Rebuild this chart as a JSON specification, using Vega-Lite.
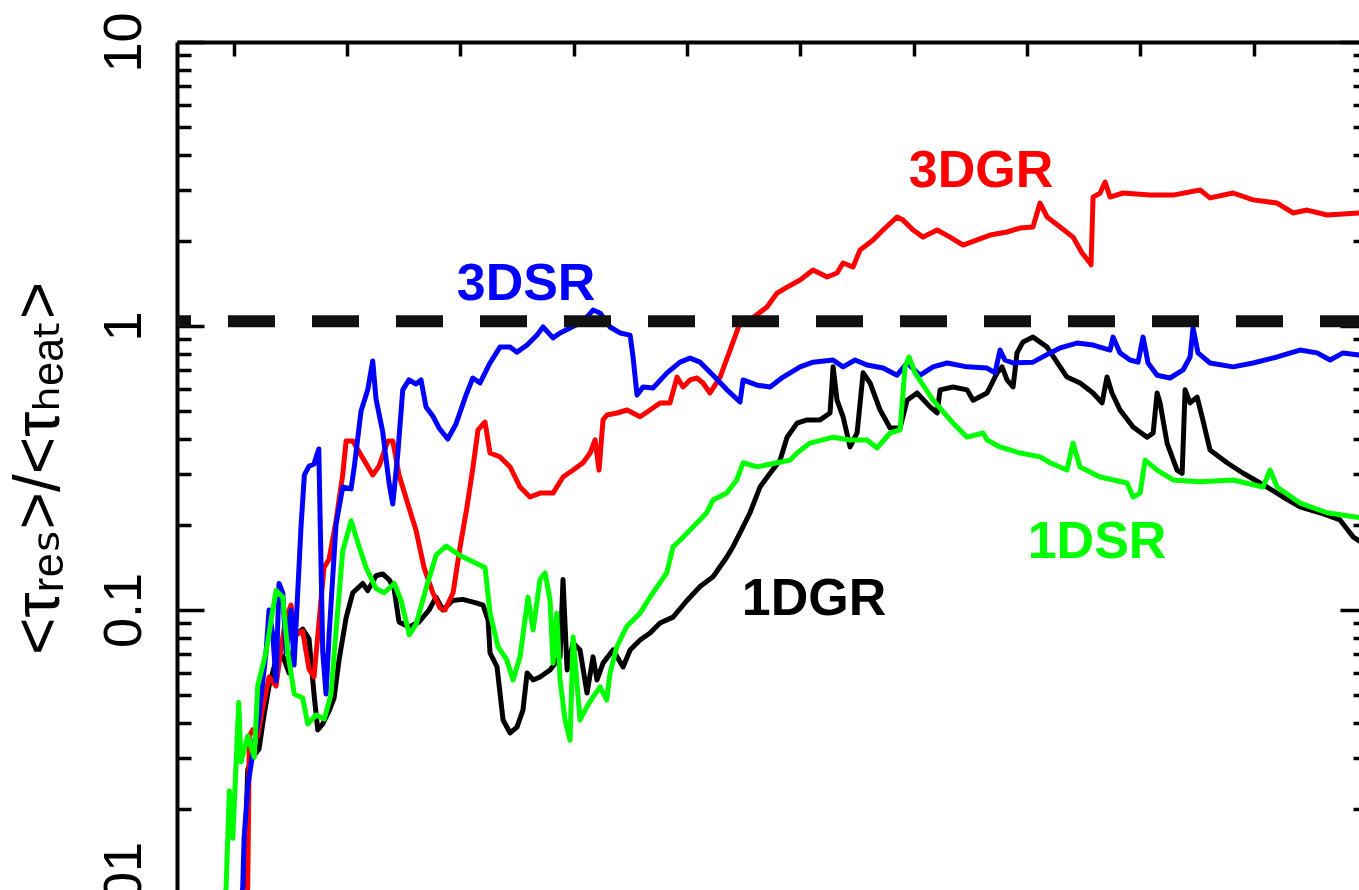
{
  "$schema": "https://vega.github.io/schema/vega-lite/v6.json",
  "width": 1190,
  "height": 852,
  "autosize": {"type": "none"},
  "padding": {"left": 177, "top": 42, "right": 0, "bottom": 0},
  "background": "white",
  "config": {
    "view": {"stroke": null},
    "axis": {"grid": false, "domainColor": "#000000", "tickColor": "#000000", "domainWidth": 4, "tickWidth": 3.5}
  },
  "datasets": {
    "curves": [
      {"s":"1DGR","x":1.056,"y":0.0091},{"s":"1DGR","x":1.092,"y":0.0105},{"s":"1DGR","x":1.124,"y":0.0274},{"s":"1DGR","x":1.168,"y":0.0303},{"s":"1DGR","x":1.224,"y":0.0324},{"s":"1DGR","x":1.268,"y":0.0427},{"s":"1DGR","x":1.312,"y":0.054},{"s":"1DGR","x":1.374,"y":0.0667},{"s":"1DGR","x":1.433,"y":0.0689},{"s":"1DGR","x":1.489,"y":0.06},{"s":"1DGR","x":1.55,"y":0.0817},{"s":"1DGR","x":1.609,"y":0.0857},{"s":"1DGR","x":1.665,"y":0.0791},{"s":"1DGR","x":1.709,"y":0.0506},{"s":"1DGR","x":1.742,"y":0.0378},{"s":"1DGR","x":1.786,"y":0.0397},{"s":"1DGR","x":1.842,"y":0.0441},{"s":"1DGR","x":1.886,"y":0.049},{"s":"1DGR","x":1.93,"y":0.0667},{"s":"1DGR","x":1.992,"y":0.0938},{"s":"1DGR","x":2.051,"y":0.115},{"s":"1DGR","x":2.139,"y":0.124},{"s":"1DGR","x":2.183,"y":0.117},{"s":"1DGR","x":2.256,"y":0.132},{"s":"1DGR","x":2.315,"y":0.134},{"s":"1DGR","x":2.371,"y":0.128},{"s":"1DGR","x":2.415,"y":0.119},{"s":"1DGR","x":2.459,"y":0.0908},{"s":"1DGR","x":2.547,"y":0.0871},{"s":"1DGR","x":2.636,"y":0.0908},{"s":"1DGR","x":2.724,"y":0.1},{"s":"1DGR","x":2.786,"y":0.111},{"s":"1DGR","x":2.845,"y":0.1},{"s":"1DGR","x":2.933,"y":0.108},{"s":"1DGR","x":3.021,"y":0.109},{"s":"1DGR","x":3.139,"y":0.106},{"s":"1DGR","x":3.2,"y":0.104},{"s":"1DGR","x":3.245,"y":0.0923},{"s":"1DGR","x":3.262,"y":0.0706},{"s":"1DGR","x":3.324,"y":0.063},{"s":"1DGR","x":3.377,"y":0.041},{"s":"1DGR","x":3.439,"y":0.0369},{"s":"1DGR","x":3.5,"y":0.0387},{"s":"1DGR","x":3.553,"y":0.0445},{"s":"1DGR","x":3.589,"y":0.06},{"s":"1DGR","x":3.642,"y":0.0567},{"s":"1DGR","x":3.703,"y":0.0581},{"s":"1DGR","x":3.792,"y":0.0615},{"s":"1DGR","x":3.88,"y":0.0684},{"s":"1DGR","x":3.906,"y":0.128},{"s":"1DGR","x":3.942,"y":0.0615},{"s":"1DGR","x":3.995,"y":0.0766},{"s":"1DGR","x":4.056,"y":0.0723},{"s":"1DGR","x":4.118,"y":0.051},{"s":"1DGR","x":4.171,"y":0.0684},{"s":"1DGR","x":4.206,"y":0.0567},{"s":"1DGR","x":4.259,"y":0.065},{"s":"1DGR","x":4.347,"y":0.0723},{"s":"1DGR","x":4.436,"y":0.063},{"s":"1DGR","x":4.498,"y":0.0723},{"s":"1DGR","x":4.586,"y":0.0784},{"s":"1DGR","x":4.674,"y":0.083},{"s":"1DGR","x":4.762,"y":0.09},{"s":"1DGR","x":4.877,"y":0.0944},{"s":"1DGR","x":5.0,"y":0.108},{"s":"1DGR","x":5.115,"y":0.121},{"s":"1DGR","x":5.23,"y":0.131},{"s":"1DGR","x":5.353,"y":0.154},{"s":"1DGR","x":5.406,"y":0.167},{"s":"1DGR","x":5.468,"y":0.187},{"s":"1DGR","x":5.556,"y":0.22},{"s":"1DGR","x":5.644,"y":0.271},{"s":"1DGR","x":5.733,"y":0.303},{"s":"1DGR","x":5.821,"y":0.337},{"s":"1DGR","x":5.883,"y":0.406},{"s":"1DGR","x":5.971,"y":0.455},{"s":"1DGR","x":6.059,"y":0.467},{"s":"1DGR","x":6.174,"y":0.467},{"s":"1DGR","x":6.262,"y":0.494},{"s":"1DGR","x":6.28,"y":0.63},{"s":"1DGR","x":6.289,"y":0.718},{"s":"1DGR","x":6.324,"y":0.548},{"s":"1DGR","x":6.377,"y":0.479},{"s":"1DGR","x":6.439,"y":0.375},{"s":"1DGR","x":6.501,"y":0.42},{"s":"1DGR","x":6.554,"y":0.684},{"s":"1DGR","x":6.615,"y":0.63},{"s":"1DGR","x":6.704,"y":0.506},{"s":"1DGR","x":6.792,"y":0.4375},{"s":"1DGR","x":6.88,"y":0.4375},{"s":"1DGR","x":6.942,"y":0.548},{"s":"1DGR","x":7.03,"y":0.581},{"s":"1DGR","x":7.145,"y":0.519},{"s":"1DGR","x":7.207,"y":0.494},{"s":"1DGR","x":7.233,"y":0.596},{"s":"1DGR","x":7.348,"y":0.61},{"s":"1DGR","x":7.471,"y":0.596},{"s":"1DGR","x":7.524,"y":0.548},{"s":"1DGR","x":7.648,"y":0.581},{"s":"1DGR","x":7.736,"y":0.684},{"s":"1DGR","x":7.78,"y":0.718},{"s":"1DGR","x":7.824,"y":0.646},{"s":"1DGR","x":7.877,"y":0.61},{"s":"1DGR","x":7.912,"y":0.804},{"s":"1DGR","x":7.965,"y":0.879},{"s":"1DGR","x":8.053,"y":0.914},{"s":"1DGR","x":8.177,"y":0.843},{"s":"1DGR","x":8.292,"y":0.718},{"s":"1DGR","x":8.353,"y":0.661},{"s":"1DGR","x":8.468,"y":0.63},{"s":"1DGR","x":8.583,"y":0.581},{"s":"1DGR","x":8.662,"y":0.536},{"s":"1DGR","x":8.706,"y":0.661},{"s":"1DGR","x":8.75,"y":0.581},{"s":"1DGR","x":8.821,"y":0.506},{"s":"1DGR","x":8.936,"y":0.441},{"s":"1DGR","x":9.06,"y":0.406},{"s":"1DGR","x":9.113,"y":0.42},{"s":"1DGR","x":9.148,"y":0.581},{"s":"1DGR","x":9.174,"y":0.536},{"s":"1DGR","x":9.236,"y":0.387},{"s":"1DGR","x":9.324,"y":0.311},{"s":"1DGR","x":9.369,"y":0.303},{"s":"1DGR","x":9.395,"y":0.596},{"s":"1DGR","x":9.439,"y":0.536},{"s":"1DGR","x":9.501,"y":0.562},{"s":"1DGR","x":9.545,"y":0.479},{"s":"1DGR","x":9.615,"y":0.366},{"s":"1DGR","x":9.765,"y":0.33},{"s":"1DGR","x":9.907,"y":0.303},{"s":"1DGR","x":10.118,"y":0.271},{"s":"1DGR","x":10.259,"y":0.25},{"s":"1DGR","x":10.409,"y":0.231},{"s":"1DGR","x":10.586,"y":0.22},{"s":"1DGR","x":10.762,"y":0.2075},{"s":"1DGR","x":10.877,"y":0.181},{"s":"1DGR","x":10.992,"y":0.169},
      {"s":"3DGR","x":1.101,"y":0.0091},{"s":"3DGR","x":1.124,"y":0.0105},{"s":"3DGR","x":1.138,"y":0.036},{"s":"3DGR","x":1.168,"y":0.0378},{"s":"3DGR","x":1.212,"y":0.036},{"s":"3DGR","x":1.257,"y":0.0455},{"s":"3DGR","x":1.312,"y":0.0581},{"s":"3DGR","x":1.374,"y":0.054},{"s":"3DGR","x":1.418,"y":0.0735},{"s":"3DGR","x":1.462,"y":0.0938},{"s":"3DGR","x":1.506,"y":0.104},{"s":"3DGR","x":1.55,"y":0.0817},{"s":"3DGR","x":1.609,"y":0.0843},{"s":"3DGR","x":1.665,"y":0.0619},{"s":"3DGR","x":1.709,"y":0.0581},{"s":"3DGR","x":1.753,"y":0.0908},{"s":"3DGR","x":1.797,"y":0.141},{"s":"3DGR","x":1.842,"y":0.151},{"s":"3DGR","x":1.903,"y":0.206},{"s":"3DGR","x":1.962,"y":0.299},{"s":"3DGR","x":1.992,"y":0.394},{"s":"3DGR","x":2.051,"y":0.394},{"s":"3DGR","x":2.139,"y":0.343},{"s":"3DGR","x":2.227,"y":0.299},{"s":"3DGR","x":2.283,"y":0.321},{"s":"3DGR","x":2.36,"y":0.394},{"s":"3DGR","x":2.404,"y":0.394},{"s":"3DGR","x":2.459,"y":0.299},{"s":"3DGR","x":2.547,"y":0.229},{"s":"3DGR","x":2.609,"y":0.191},{"s":"3DGR","x":2.68,"y":0.141},{"s":"3DGR","x":2.757,"y":0.115},{"s":"3DGR","x":2.821,"y":0.1016},{"s":"3DGR","x":2.865,"y":0.1},{"s":"3DGR","x":2.936,"y":0.115},{"s":"3DGR","x":2.998,"y":0.167},{"s":"3DGR","x":3.059,"y":0.231},{"s":"3DGR","x":3.112,"y":0.319},{"s":"3DGR","x":3.156,"y":0.431},{"s":"3DGR","x":3.218,"y":0.459},{"s":"3DGR","x":3.262,"y":0.357},{"s":"3DGR","x":3.35,"y":0.346},{"s":"3DGR","x":3.439,"y":0.319},{"s":"3DGR","x":3.527,"y":0.271},{"s":"3DGR","x":3.615,"y":0.25},{"s":"3DGR","x":3.703,"y":0.258},{"s":"3DGR","x":3.818,"y":0.258},{"s":"3DGR","x":3.906,"y":0.294},{"s":"3DGR","x":3.995,"y":0.311},{"s":"3DGR","x":4.083,"y":0.33},{"s":"3DGR","x":4.145,"y":0.357},{"s":"3DGR","x":4.189,"y":0.397},{"s":"3DGR","x":4.224,"y":0.311},{"s":"3DGR","x":4.259,"y":0.467},{"s":"3DGR","x":4.294,"y":0.486},{"s":"3DGR","x":4.383,"y":0.494},{"s":"3DGR","x":4.471,"y":0.506},{"s":"3DGR","x":4.586,"y":0.479},{"s":"3DGR","x":4.674,"y":0.506},{"s":"3DGR","x":4.762,"y":0.536},{"s":"3DGR","x":4.85,"y":0.536},{"s":"3DGR","x":4.912,"y":0.661},{"s":"3DGR","x":4.965,"y":0.61},{"s":"3DGR","x":5.027,"y":0.646},{"s":"3DGR","x":5.088,"y":0.656},{"s":"3DGR","x":5.141,"y":0.63},{"s":"3DGR","x":5.203,"y":0.581},{"s":"3DGR","x":5.292,"y":0.661},{"s":"3DGR","x":5.38,"y":0.823},{"s":"3DGR","x":5.468,"y":1.025},{"s":"3DGR","x":5.556,"y":1.05},{"s":"3DGR","x":5.706,"y":1.167},{"s":"3DGR","x":5.795,"y":1.306},{"s":"3DGR","x":5.883,"y":1.371},{"s":"3DGR","x":5.998,"y":1.452},{"s":"3DGR","x":6.112,"y":1.574},{"s":"3DGR","x":6.236,"y":1.488},{"s":"3DGR","x":6.324,"y":1.537},{"s":"3DGR","x":6.377,"y":1.667},{"s":"3DGR","x":6.465,"y":1.614},{"s":"3DGR","x":6.527,"y":1.853},{"s":"3DGR","x":6.642,"y":2.009},{"s":"3DGR","x":6.73,"y":2.178},{"s":"3DGR","x":6.853,"y":2.42},{"s":"3DGR","x":6.906,"y":2.36},{"s":"3DGR","x":6.995,"y":2.178},{"s":"3DGR","x":7.083,"y":2.056},{"s":"3DGR","x":7.207,"y":2.178},{"s":"3DGR","x":7.321,"y":2.056},{"s":"3DGR","x":7.436,"y":1.928},{"s":"3DGR","x":7.56,"y":2.009},{"s":"3DGR","x":7.674,"y":2.09},{"s":"3DGR","x":7.824,"y":2.143},{"s":"3DGR","x":7.939,"y":2.213},{"s":"3DGR","x":8.053,"y":2.233},{"s":"3DGR","x":8.115,"y":2.71},{"s":"3DGR","x":8.177,"y":2.42},{"s":"3DGR","x":8.292,"y":2.233},{"s":"3DGR","x":8.406,"y":2.056},{"s":"3DGR","x":8.486,"y":1.807},{"s":"3DGR","x":8.556,"y":1.667},{"s":"3DGR","x":8.565,"y":1.64},{"s":"3DGR","x":8.583,"y":2.845},{"s":"3DGR","x":8.645,"y":2.94},{"s":"3DGR","x":8.689,"y":3.214},{"s":"3DGR","x":8.733,"y":2.845},{"s":"3DGR","x":8.848,"y":2.94},{"s":"3DGR","x":9.086,"y":2.89},{"s":"3DGR","x":9.289,"y":2.89},{"s":"3DGR","x":9.527,"y":3.013},{"s":"3DGR","x":9.615,"y":2.825},{"s":"3DGR","x":9.818,"y":2.94},{"s":"3DGR","x":9.995,"y":2.78},{"s":"3DGR","x":10.207,"y":2.71},{"s":"3DGR","x":10.348,"y":2.5},{"s":"3DGR","x":10.471,"y":2.56},{"s":"3DGR","x":10.648,"y":2.46},{"s":"3DGR","x":10.93,"y":2.5},{"s":"3DGR","x":10.992,"y":2.5},
      {"s":"3DSR","x":1.056,"y":0.0091},{"s":"3DSR","x":1.08,"y":0.0105},{"s":"3DSR","x":1.092,"y":0.0157},{"s":"3DSR","x":1.124,"y":0.0238},{"s":"3DSR","x":1.168,"y":0.0313},{"s":"3DSR","x":1.224,"y":0.0427},{"s":"3DSR","x":1.286,"y":0.0711},{"s":"3DSR","x":1.312,"y":0.1},{"s":"3DSR","x":1.345,"y":0.0817},{"s":"3DSR","x":1.374,"y":0.0562},{"s":"3DSR","x":1.4,"y":0.124},{"s":"3DSR","x":1.433,"y":0.115},{"s":"3DSR","x":1.462,"y":0.0711},{"s":"3DSR","x":1.506,"y":0.1},{"s":"3DSR","x":1.533,"y":0.064},{"s":"3DSR","x":1.565,"y":0.115},{"s":"3DSR","x":1.595,"y":0.199},{"s":"3DSR","x":1.624,"y":0.299},{"s":"3DSR","x":1.665,"y":0.321},{"s":"3DSR","x":1.709,"y":0.327},{"s":"3DSR","x":1.751,"y":0.369},{"s":"3DSR","x":1.786,"y":0.0711},{"s":"3DSR","x":1.815,"y":0.0506},{"s":"3DSR","x":1.842,"y":0.0817},{"s":"3DSR","x":1.903,"y":0.199},{"s":"3DSR","x":1.962,"y":0.271},{"s":"3DSR","x":2.036,"y":0.267},{"s":"3DSR","x":2.065,"y":0.321},{"s":"3DSR","x":2.124,"y":0.502},{"s":"3DSR","x":2.183,"y":0.596},{"s":"3DSR","x":2.227,"y":0.753},{"s":"3DSR","x":2.256,"y":0.553},{"s":"3DSR","x":2.315,"y":0.424},{"s":"3DSR","x":2.371,"y":0.28},{"s":"3DSR","x":2.404,"y":0.236},{"s":"3DSR","x":2.448,"y":0.354},{"s":"3DSR","x":2.492,"y":0.596},{"s":"3DSR","x":2.547,"y":0.646},{"s":"3DSR","x":2.609,"y":0.625},{"s":"3DSR","x":2.653,"y":0.646},{"s":"3DSR","x":2.697,"y":0.519},{"s":"3DSR","x":2.757,"y":0.482},{"s":"3DSR","x":2.812,"y":0.4375},{"s":"3DSR","x":2.889,"y":0.4},{"s":"3DSR","x":2.962,"y":0.452},{"s":"3DSR","x":3.05,"y":0.571},{"s":"3DSR","x":3.11,"y":0.656},{"s":"3DSR","x":3.174,"y":0.63},{"s":"3DSR","x":3.262,"y":0.741},{"s":"3DSR","x":3.35,"y":0.843},{"s":"3DSR","x":3.439,"y":0.843},{"s":"3DSR","x":3.5,"y":0.809},{"s":"3DSR","x":3.589,"y":0.857},{"s":"3DSR","x":3.677,"y":0.929},{"s":"3DSR","x":3.73,"y":0.992},{"s":"3DSR","x":3.818,"y":0.908},{"s":"3DSR","x":3.88,"y":0.945},{"s":"3DSR","x":3.968,"y":0.984},{"s":"3DSR","x":4.056,"y":1.025},{"s":"3DSR","x":4.118,"y":1.076},{"s":"3DSR","x":4.171,"y":1.138},{"s":"3DSR","x":4.233,"y":1.111},{"s":"3DSR","x":4.321,"y":0.992},{"s":"3DSR","x":4.409,"y":0.945},{"s":"3DSR","x":4.498,"y":0.929},{"s":"3DSR","x":4.524,"y":0.778},{"s":"3DSR","x":4.559,"y":0.571},{"s":"3DSR","x":4.612,"y":0.61},{"s":"3DSR","x":4.7,"y":0.605},{"s":"3DSR","x":4.824,"y":0.684},{"s":"3DSR","x":4.939,"y":0.746},{"s":"3DSR","x":5.027,"y":0.771},{"s":"3DSR","x":5.115,"y":0.746},{"s":"3DSR","x":5.23,"y":0.671},{"s":"3DSR","x":5.353,"y":0.596},{"s":"3DSR","x":5.468,"y":0.54},{"s":"3DSR","x":5.495,"y":0.646},{"s":"3DSR","x":5.618,"y":0.619},{"s":"3DSR","x":5.733,"y":0.61},{"s":"3DSR","x":5.848,"y":0.661},{"s":"3DSR","x":5.998,"y":0.718},{"s":"3DSR","x":6.112,"y":0.746},{"s":"3DSR","x":6.289,"y":0.759},{"s":"3DSR","x":6.377,"y":0.718},{"s":"3DSR","x":6.483,"y":0.759},{"s":"3DSR","x":6.589,"y":0.729},{"s":"3DSR","x":6.73,"y":0.711},{"s":"3DSR","x":6.853,"y":0.671},{"s":"3DSR","x":6.942,"y":0.741},{"s":"3DSR","x":7.057,"y":0.671},{"s":"3DSR","x":7.171,"y":0.718},{"s":"3DSR","x":7.295,"y":0.741},{"s":"3DSR","x":7.471,"y":0.718},{"s":"3DSR","x":7.648,"y":0.711},{"s":"3DSR","x":7.718,"y":0.684},{"s":"3DSR","x":7.762,"y":0.823},{"s":"3DSR","x":7.806,"y":0.759},{"s":"3DSR","x":7.877,"y":0.741},{"s":"3DSR","x":8.053,"y":0.746},{"s":"3DSR","x":8.204,"y":0.804},{"s":"3DSR","x":8.292,"y":0.837},{"s":"3DSR","x":8.442,"y":0.871},{"s":"3DSR","x":8.583,"y":0.857},{"s":"3DSR","x":8.733,"y":0.823},{"s":"3DSR","x":8.759,"y":0.914},{"s":"3DSR","x":8.821,"y":0.804},{"s":"3DSR","x":8.909,"y":0.759},{"s":"3DSR","x":8.98,"y":0.746},{"s":"3DSR","x":9.024,"y":0.914},{"s":"3DSR","x":9.068,"y":0.741},{"s":"3DSR","x":9.148,"y":0.671},{"s":"3DSR","x":9.262,"y":0.656},{"s":"3DSR","x":9.377,"y":0.7},{"s":"3DSR","x":9.439,"y":0.778},{"s":"3DSR","x":9.465,"y":0.984},{"s":"3DSR","x":9.509,"y":0.804},{"s":"3DSR","x":9.615,"y":0.741},{"s":"3DSR","x":9.818,"y":0.718},{"s":"3DSR","x":9.995,"y":0.741},{"s":"3DSR","x":10.207,"y":0.778},{"s":"3DSR","x":10.409,"y":0.823},{"s":"3DSR","x":10.559,"y":0.804},{"s":"3DSR","x":10.674,"y":0.759},{"s":"3DSR","x":10.789,"y":0.804},{"s":"3DSR","x":10.93,"y":0.791},{"s":"3DSR","x":10.992,"y":0.784},
      {"s":"1DSR","x":0.915,"y":0.0091},{"s":"1DSR","x":0.933,"y":0.0105},{"s":"1DSR","x":0.962,"y":0.0231},{"s":"1DSR","x":0.992,"y":0.0157},{"s":"1DSR","x":1.045,"y":0.0472},{"s":"1DSR","x":1.065,"y":0.0292},{"s":"1DSR","x":1.124,"y":0.036},{"s":"1DSR","x":1.182,"y":0.0303},{"s":"1DSR","x":1.212,"y":0.054},{"s":"1DSR","x":1.286,"y":0.0711},{"s":"1DSR","x":1.345,"y":0.1},{"s":"1DSR","x":1.374,"y":0.117},{"s":"1DSR","x":1.433,"y":0.111},{"s":"1DSR","x":1.477,"y":0.0711},{"s":"1DSR","x":1.535,"y":0.0506},{"s":"1DSR","x":1.609,"y":0.049},{"s":"1DSR","x":1.654,"y":0.0397},{"s":"1DSR","x":1.727,"y":0.0427},{"s":"1DSR","x":1.8,"y":0.0413},{"s":"1DSR","x":1.859,"y":0.0506},{"s":"1DSR","x":1.903,"y":0.0843},{"s":"1DSR","x":1.962,"y":0.161},{"s":"1DSR","x":2.036,"y":0.206},{"s":"1DSR","x":2.095,"y":0.173},{"s":"1DSR","x":2.168,"y":0.141},{"s":"1DSR","x":2.256,"y":0.119},{"s":"1DSR","x":2.329,"y":0.115},{"s":"1DSR","x":2.418,"y":0.124},{"s":"1DSR","x":2.477,"y":0.108},{"s":"1DSR","x":2.55,"y":0.0817},{"s":"1DSR","x":2.609,"y":0.0889},{"s":"1DSR","x":2.697,"y":0.119},{"s":"1DSR","x":2.786,"y":0.156},{"s":"1DSR","x":2.874,"y":0.168},{"s":"1DSR","x":2.991,"y":0.156},{"s":"1DSR","x":3.139,"y":0.146},{"s":"1DSR","x":3.218,"y":0.141},{"s":"1DSR","x":3.262,"y":0.0975},{"s":"1DSR","x":3.333,"y":0.0741},{"s":"1DSR","x":3.41,"y":0.0667},{"s":"1DSR","x":3.465,"y":0.0567},{"s":"1DSR","x":3.527,"y":0.0684},{"s":"1DSR","x":3.597,"y":0.111},{"s":"1DSR","x":3.642,"y":0.0851},{"s":"1DSR","x":3.703,"y":0.128},{"s":"1DSR","x":3.748,"y":0.135},{"s":"1DSR","x":3.792,"y":0.108},{"s":"1DSR","x":3.818,"y":0.065},{"s":"1DSR","x":3.851,"y":0.0975},{"s":"1DSR","x":3.88,"y":0.0567},{"s":"1DSR","x":3.924,"y":0.041},{"s":"1DSR","x":3.968,"y":0.0348},{"s":"1DSR","x":3.995,"y":0.0804},{"s":"1DSR","x":4.027,"y":0.0567},{"s":"1DSR","x":4.056,"y":0.041},{"s":"1DSR","x":4.115,"y":0.0455},{"s":"1DSR","x":4.171,"y":0.0494},{"s":"1DSR","x":4.233,"y":0.0536},{"s":"1DSR","x":4.292,"y":0.0482},{"s":"1DSR","x":4.321,"y":0.06},{"s":"1DSR","x":4.38,"y":0.0741},{"s":"1DSR","x":4.468,"y":0.0875},{"s":"1DSR","x":4.586,"y":0.0975},{"s":"1DSR","x":4.674,"y":0.111},{"s":"1DSR","x":4.821,"y":0.135},{"s":"1DSR","x":4.877,"y":0.167},{"s":"1DSR","x":4.939,"y":0.176},{"s":"1DSR","x":5.053,"y":0.196},{"s":"1DSR","x":5.174,"y":0.22},{"s":"1DSR","x":5.23,"y":0.244},{"s":"1DSR","x":5.351,"y":0.258},{"s":"1DSR","x":5.439,"y":0.287},{"s":"1DSR","x":5.495,"y":0.33},{"s":"1DSR","x":5.618,"y":0.319},{"s":"1DSR","x":5.795,"y":0.33},{"s":"1DSR","x":5.909,"y":0.337},{"s":"1DSR","x":5.971,"y":0.357},{"s":"1DSR","x":6.086,"y":0.387},{"s":"1DSR","x":6.289,"y":0.406},{"s":"1DSR","x":6.439,"y":0.397},{"s":"1DSR","x":6.589,"y":0.397},{"s":"1DSR","x":6.677,"y":0.372},{"s":"1DSR","x":6.792,"y":0.42},{"s":"1DSR","x":6.88,"y":0.431},{"s":"1DSR","x":6.924,"y":0.718},{"s":"1DSR","x":6.959,"y":0.778},{"s":"1DSR","x":7.012,"y":0.684},{"s":"1DSR","x":7.171,"y":0.548},{"s":"1DSR","x":7.348,"y":0.455},{"s":"1DSR","x":7.471,"y":0.406},{"s":"1DSR","x":7.612,"y":0.42},{"s":"1DSR","x":7.648,"y":0.397},{"s":"1DSR","x":7.762,"y":0.375},{"s":"1DSR","x":7.939,"y":0.357},{"s":"1DSR","x":8.115,"y":0.346},{"s":"1DSR","x":8.204,"y":0.33},{"s":"1DSR","x":8.353,"y":0.311},{"s":"1DSR","x":8.406,"y":0.387},{"s":"1DSR","x":8.468,"y":0.319},{"s":"1DSR","x":8.645,"y":0.294},{"s":"1DSR","x":8.883,"y":0.28},{"s":"1DSR","x":8.936,"y":0.25},{"s":"1DSR","x":8.998,"y":0.258},{"s":"1DSR","x":9.042,"y":0.337},{"s":"1DSR","x":9.148,"y":0.311},{"s":"1DSR","x":9.289,"y":0.287},{"s":"1DSR","x":9.527,"y":0.283},{"s":"1DSR","x":9.818,"y":0.287},{"s":"1DSR","x":10.083,"y":0.271},{"s":"1DSR","x":10.145,"y":0.311},{"s":"1DSR","x":10.207,"y":0.271},{"s":"1DSR","x":10.409,"y":0.238},{"s":"1DSR","x":10.648,"y":0.22},{"s":"1DSR","x":10.912,"y":0.212},{"s":"1DSR","x":11.0,"y":0.21}
    ],
    "labels": [
      {"s":"3DGR","x":7.595,"y":3.086},
      {"s":"3DSR","x":3.58,"y":1.235},
      {"s":"1DGR","x":6.121,"y":0.096},
      {"s":"1DSR","x":8.618,"y":0.1524}
    ]
  },
  "layer": [
    {
      "data": {"name": "curves"},
      "mark": {"type": "line", "strokeWidth": 5, "clip": true, "strokeJoin": "round"},
      "encoding": {
        "x": {"field": "x", "type": "quantitative",
              "scale": {"domain": [0.5, 11], "nice": false, "zero": false},
              "axis": null},
        "y": {"field": "y", "type": "quantitative",
              "scale": {"type": "log", "domain": [0.01, 10], "nice": false},
              "axis": {
                "orient": "left",
                "values": [0.01,0.02,0.03,0.04,0.05,0.06,0.07,0.08,0.09,0.1,0.2,0.3,0.4,0.5,0.6,0.7,0.8,0.9,1,2,3,4,5,6,7,8,9,10],
                "tickSize": {"condition": {"test": "datum.value == 0.01 || datum.value == 0.1 || datum.value == 1 || datum.value == 10", "value": -27}, "value": -14},
                "labelExpr": "datum.value == 10 ? '10' : datum.value == 1 ? '1' : datum.value == 0.1 ? '0.1' : datum.value == 0.01 ? '0.01' : ''",
                "labelAngle": -90, "labelAlign": "center", "labelBaseline": "alphabetic",
                "labelFont": "Liberation Sans", "labelFontSize": 54, "labelColor": "#000000",
                "labelPadding": 64, "labelOverlap": false, "labelFlush": false, "labelBound": false,
                "title": "<τᵣₑₛ>/<τₕₑₐₜ>",
                "titleFont": "Liberation Sans, DejaVu Sans", "titleFontSize": 64, "titleFontWeight": "normal", "titleColor": "#000000",
                "titleAngle": -90, "titleX": -119, "titleY": 426, "titleAlign": "center", "titleBaseline": "alphabetic"
              }},
        "color": {"field": "s", "type": "nominal",
                  "scale": {"domain": ["1DGR", "3DGR", "3DSR", "1DSR"], "range": ["#000000", "#ff0000", "#0000ff", "#00ff00"]},
                  "legend": null}
      }
    },
    {
      "data": {"values": [{}]},
      "mark": {"type": "rule", "strokeDash": [47, 37], "strokeWidth": 12, "color": "#111111"},
      "encoding": {
        "y": {"datum": 1.04, "type": "quantitative", "scale": {"type": "log", "domain": [0.01, 10], "nice": false}, "axis": null}
      }
    },
    {
      "data": {"name": "labels"},
      "mark": {"type": "text", "font": "Liberation Sans", "fontSize": 52, "fontWeight": "bold", "align": "center", "baseline": "alphabetic"},
      "encoding": {
        "x": {"field": "x", "type": "quantitative", "scale": {"domain": [0.5, 11], "nice": false, "zero": false},
              "axis": {"orient": "top", "domain": true, "ticks": true, "values": [1,2,3,4,5,6,7,8,9,10,11], "labels": false, "tickSize": -14, "title": null}},
        "y": {"field": "y", "type": "quantitative",
              "scale": {"type": "log", "domain": [0.01, 10], "nice": false},
              "axis": {
                "orient": "right",
                "values": [0.01,0.02,0.03,0.04,0.05,0.06,0.07,0.08,0.09,0.1,0.2,0.3,0.4,0.5,0.6,0.7,0.8,0.9,1,2,3,4,5,6,7,8,9,10],
                "tickSize": {"condition": {"test": "datum.value == 0.01 || datum.value == 0.1 || datum.value == 1 || datum.value == 10", "value": -27}, "value": -14},
                "labels": false, "title": null
              }},
        "text": {"field": "s"},
        "color": {"field": "s", "type": "nominal", "legend": null}
      }
    }
  ],
  "resolve": {"axis": {"x": "independent", "y": "independent"}}
}
